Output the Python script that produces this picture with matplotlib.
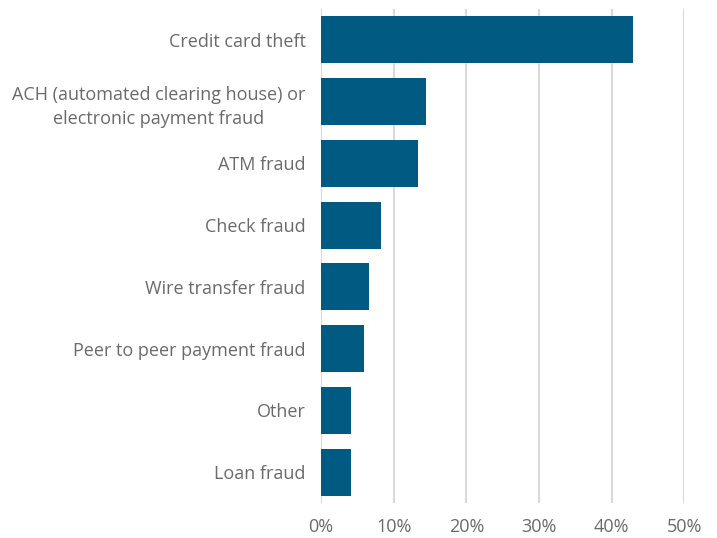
import matplotlib
matplotlib.use("Agg")
import matplotlib.pyplot as plt
from matplotlib.ticker import PercentFormatter

categories = [
    "Credit card theft",
    "ACH (automated clearing house) or\nelectronic payment fraud",
    "ATM fraud",
    "Check fraud",
    "Wire transfer fraud",
    "Peer to peer payment fraud",
    "Other",
    "Loan fraud",
]
values = [0.430, 0.144, 0.134, 0.0825, 0.0665, 0.059, 0.041, 0.041]
xticks = [0, 0.1, 0.2, 0.3, 0.4, 0.5]

bar_color = "#005A82"
text_color = "#6A6A6A"
grid_color = "#D9D9D9"

plt.rcParams["font.family"] = ["Open Sans", "DejaVu Sans"]

fig = plt.figure(figsize=(7.17, 5.38), dpi=100)
ax = fig.add_axes([0.4477, 0.0651, 0.5067, 0.9182])

y = list(range(len(categories)))
ax.barh(y, values, height=0.76, color=bar_color, zorder=3)

ax.set_ylim(len(categories) - 0.5, -0.5)
ax.set_xlim(0, 0.5)
ax.set_xticks(xticks)
ax.xaxis.set_major_formatter(PercentFormatter(1.0, decimals=0))
ax.set_yticks(y)
ax.set_yticklabels(categories, multialignment="center", linespacing=1.45)

ax.grid(axis="x", color=grid_color, linewidth=1.5, zorder=0)
for s in ax.spines.values():
    s.set_visible(False)
ax.tick_params(axis="both", length=0, labelsize=13, labelcolor=text_color)
ax.tick_params(axis="y", pad=11)
ax.tick_params(axis="x", pad=11)

fig.savefig("out.png", dpi=100)
